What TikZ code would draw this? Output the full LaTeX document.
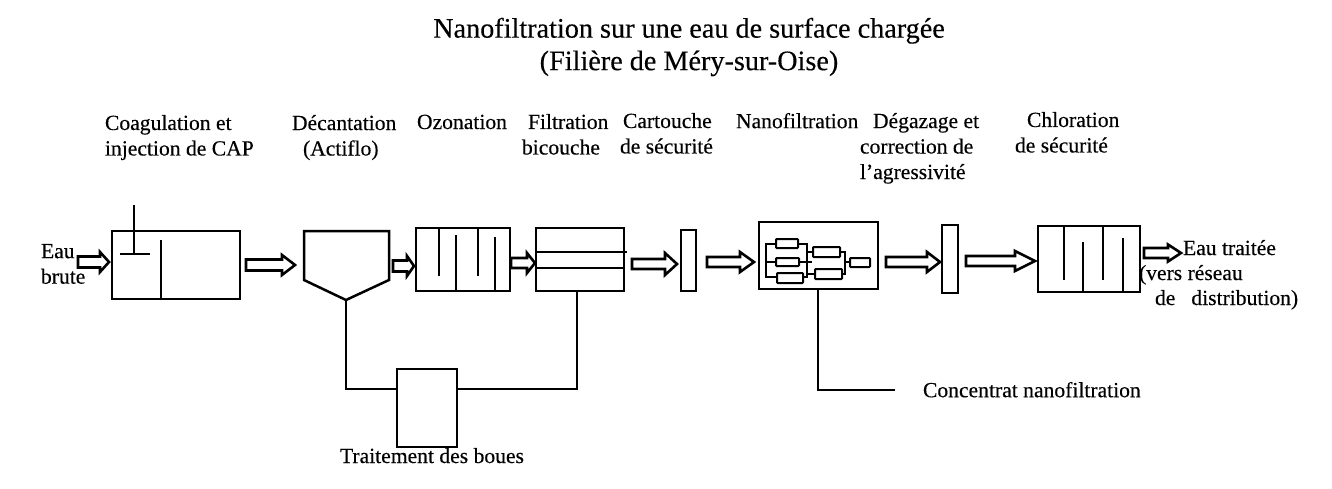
\documentclass[tikz,border=0pt]{standalone}
\usepackage{fontspec}
\setmainfont{Liberation Serif}[FakeBold=0.3]
\newcommand{\blockarrow}[7]{% name, x0, xhead, xtip, yc, shaft half, head half
  \draw[barrow] (#2,#5-#6) -- (#3,#5-#6) -- (#3,#5-#7) -- (#4,#5) -- (#3,#5+#7) -- (#3,#5+#6) -- (#2,#5+#6) -- cycle;
  \coordinate (#1) at (#4,#5);}
\newcommand{\procbox}[5]{% name, x0, y0, x1, y1
  \node[procbox, minimum width={(#4-#2)*1pt}, minimum height={(#5-#3)*1pt}] (#1) at ({(#2+#4)/2},{(#3+#5)/2}) {};}
\newcommand{\smallbox}[5]{%
  \node[smallbx, minimum width={(#4-#2)*1pt}, minimum height={(#5-#3)*1pt}] (#1) at ({(#2+#4)/2},{(#3+#5)/2}) {};}
\tikzset{
  procbox/.style={draw=black, line width=2.5pt, fill=none, inner sep=0pt, outer sep=0pt},
  smallbx/.style={draw=black, line width=2pt, fill=white, inner sep=0pt, outer sep=0pt, rounded corners=0.8pt},
  barrow/.style={draw=black, line width=2.6pt, fill=white, line join=miter},
  ln/.style={draw=black, line width=2.5pt},
  thinln/.style={draw=black, line width=2pt},
  lab/.style={font=\fontsize{21.6}{25.5}\selectfont, inner sep=0pt, outer sep=0pt, align=left, anchor=north west, execute at begin node={\rule{0pt}{15pt}}},
  ttl/.style={font=\fontsize{28.2}{32.5}\selectfont, inner sep=0pt, outer sep=0pt, align=center},
}
\begin{document}
\begin{tikzpicture}[x=1pt,y=-1pt]
\useasboundingbox (0,0) rectangle (1332,488);
% titles
\node[ttl] (title) at (689,47) {Nanofiltration sur une eau de surface chargée\\(Filière de Méry-sur-Oise)};
% labels
\node[lab] (lcoag) at (105,115) {Coagulation et\\injection de CAP};
\node[lab] (ldec) at (292,115) {Décantation\\\hspace*{11pt}(Actiflo)};
\node[lab] (loz) at (417,114) {Ozonation};
\node[lab] (lfil) at (528,114) {Filtration\\\hspace*{-6pt}bicouche};
\node[lab] (lcar) at (623,113) {Cartouche\\\hspace*{-3pt}de sécurité};
\node[lab] (lnano) at (736,113) {Nanofiltration};
\node[lab] (ldeg) at (873,113) {Dégazage et\\\hspace*{-13pt}correction de\\\hspace*{-13pt}l’agressivité};
\node[lab] (lchl) at (1027,112) {Chloration\\\hspace*{-12pt}de sécurité};
\node[lab] (leau) at (41,244) {Eau\\brute};
\node[lab] (ltr) at (1183,240) {Eau traitée};
\node[lab] (lvers) at (1139,265) {(vers réseau};
\node[lab] (ldist) at (1155,290) {de\hspace{16pt}distribution)};
\node[lab] (lboues) at (340,448) {Traitement des boues};
\node[lab] (lconc) at (923,382) {Concentrat nanofiltration};
% coagulation tank
\procbox{coag}{112}{231}{240}{299}
\coordinate (coagdiv) at (161,240);
\draw[ln] (coagdiv) -- (coagdiv |- coag.south);
\coordinate (injtop) at (134,205);
\coordinate (injbot) at (134,254);
\draw[thinln] (injtop) -- (injbot);
\draw[thinln] (120,254) -- (150,254);
% settler
\coordinate (apex) at (346,300);
\draw[ln, line join=miter] (304,231) -- (389,231) -- (389,280) -- (apex) -- (304,280) -- cycle;
% ozonation
\procbox{oz}{416}{228}{510}{291}
\draw[thinln] (439,228) -- (439,276);
\draw[thinln] (456,235) -- (456,291);
\draw[thinln] (478,228) -- (478,276);
\draw[thinln] (495,237) -- (495,291);
% filter
\procbox{filt}{536}{228}{624}{291}
\draw[ln] (filt.west |- 0,252) -- (627,252);
\draw[ln] (filt.west |- 0,268) -- (filt.east |- 0,268);
\coordinate (filtout) at (577,291);
% cartridge
\procbox{cart}{681}{230}{696}{291}
% nanofiltration block
\procbox{nf}{759}{222}{878}{289}
\coordinate (nfout) at (818,289);
\draw[thinln] (776,243.5) -- (766,243.5) -- (766,277) -- (777,277);
\draw[thinln] (766,262) -- (776,262);
\draw[thinln] (798,243.5) -- (807,243.5) -- (807,277) -- (803,277);
\draw[thinln] (799,262) -- (812,262);
\draw[thinln] (807,252) -- (813,252);
\draw[thinln] (807,274) -- (815,274);
\draw[thinln] (840,252) -- (845,252) -- (845,274) -- (842,274);
\draw[thinln] (845,262) -- (850,262);
\smallbox{m1}{776}{239}{798}{248}
\smallbox{m2}{776}{258}{799}{266}
\smallbox{m3}{777}{273}{803}{283}
\smallbox{m4}{813}{247}{840}{257}
\smallbox{m5}{815}{269}{842}{279}
\smallbox{m6}{850}{258}{870}{267}
% degassing
\procbox{deg}{942}{225}{958}{293}
% chlorination
\procbox{chl}{1038}{226}{1140}{292}
\draw[thinln] (1064,226) -- (1064,280);
\draw[thinln] (1083,242) -- (1083,292);
\draw[thinln] (1103,226) -- (1103,280);
\draw[thinln] (1123,238) -- (1123,292);
% sludge
\procbox{boues}{397}{369}{457}{447}
\coordinate (bouesL) at (397,389);
\coordinate (bouesR) at (457,389);
\draw[ln, line join=miter] (apex) |- (bouesL);
\draw[ln, line join=miter] (bouesR) -| (filtout);
% concentrate
\coordinate (concend) at (895,390);
\draw[ln, line join=miter] (nfout) |- (concend);
% block arrows
\blockarrow{a1}{78}{100}{109}{262}{5.5}{10}
\blockarrow{a2}{246}{282}{295}{265}{5.5}{10}
\blockarrow{a3}{393}{407}{414}{266}{5.5}{10}
\blockarrow{a4}{511}{527}{535}{263}{5}{10}
\blockarrow{a5}{632}{665}{677}{264}{5}{11}
\blockarrow{a6}{707}{740}{754}{262}{5}{10}
\blockarrow{a7}{886}{927}{940}{262}{5}{10}
\blockarrow{a8}{966}{1015}{1035}{261}{5}{10}
\blockarrow{a9}{1144}{1168}{1181}{253}{5}{8.5}
\end{tikzpicture}
\end{document}
